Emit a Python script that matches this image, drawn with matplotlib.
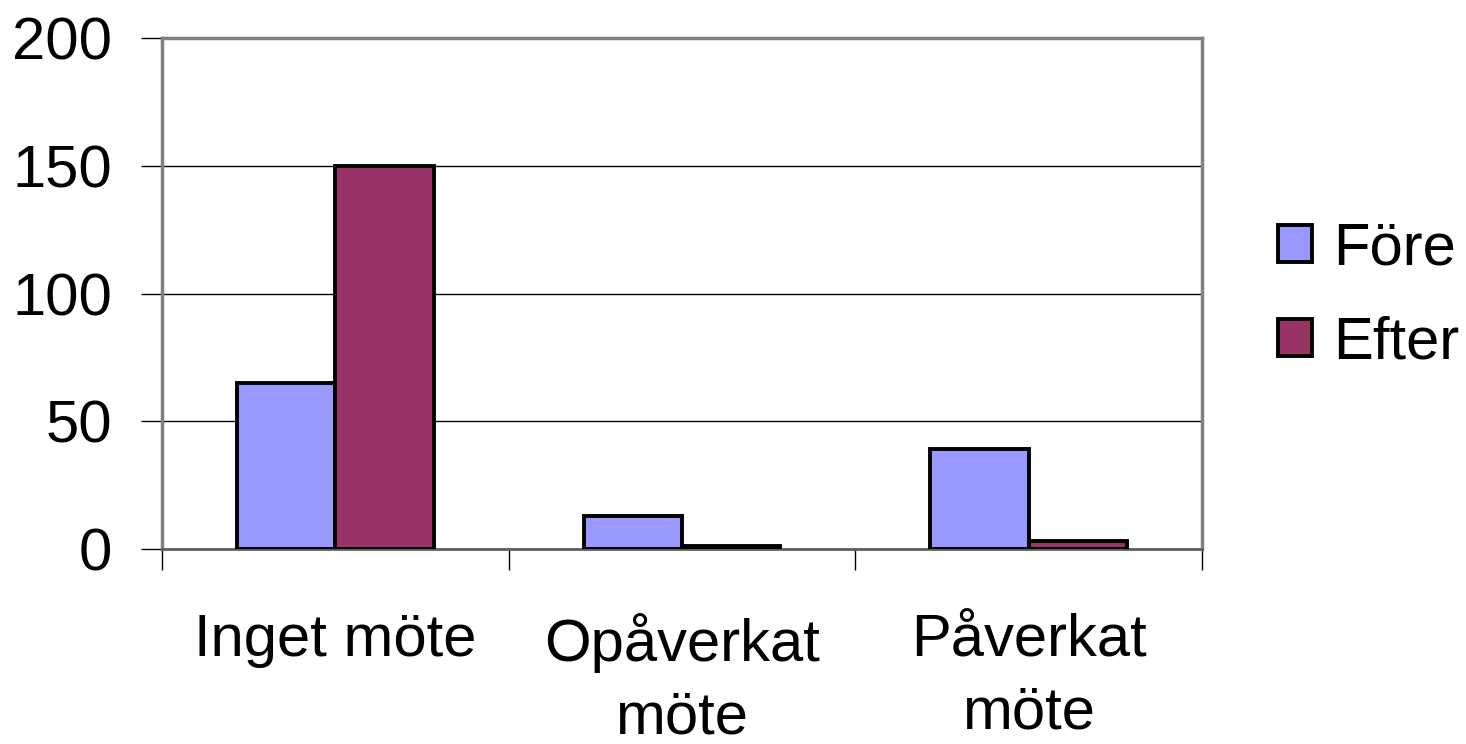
import matplotlib.pyplot as plt
import numpy as np

plt.rcParams['font.family'] = ['Liberation Sans', 'DejaVu Sans']

# data
categories = ['Inget möte', 'Opåverkat\nmöte', 'Påverkat\nmöte']
series = ['Före', 'Efter']
fore = [65, 13, 39]
efter = [150, 1, 3]
colors = ['#9999FF', '#993366']

FS = 43

fig = plt.figure(figsize=(14.66, 7.44), dpi=100)
ax = fig.add_axes([162 / 1466, 1 - 549 / 744, 1040 / 1466, 511 / 744])

x = np.arange(len(categories))
w = 0.284
ax.bar(x - w / 2, fore, w, color=colors[0], edgecolor='black', linewidth=2.8, label=series[0], zorder=3)
ax.bar(x + w / 2, efter, w, color=colors[1], edgecolor='black', linewidth=2.8, label=series[1], zorder=3)

ax.set_xlim(-0.5, len(categories) - 0.5)
ax.set_ylim(0, 200)
ax.set_yticks([0, 50, 100, 150, 200])
ax.yaxis.grid(True, color='black', linewidth=1)
ax.set_axisbelow(True)

ax.set_xticks(x)
ax.set_xticklabels(categories, fontsize=FS, linespacing=1.42)
ax.set_xticks(np.arange(-0.5, len(categories)), minor=True)
ax.tick_params(axis='x', which='major', length=0, pad=46)
ax.tick_params(axis='x', which='minor', length=15, width=1, color='black')
ax.tick_params(axis='y', length=15, width=1, color='black', labelsize=FS, pad=21)

for side in ['left', 'top', 'right']:
    ax.spines[side].set_color('#808080')
    ax.spines[side].set_linewidth(2.5)
ax.spines['bottom'].set_color('#606060')
ax.spines['bottom'].set_linewidth(2)

fig.legend(loc='center left', bbox_to_anchor=(1278 / 1466, 1 - 296 / 744), frameon=False, fontsize=FS,
           borderpad=0, borderaxespad=0, handlelength=0.57, handleheight=0.57,
           handletextpad=0.35, labelspacing=0.65)

fig.savefig('out.png', dpi=100)
